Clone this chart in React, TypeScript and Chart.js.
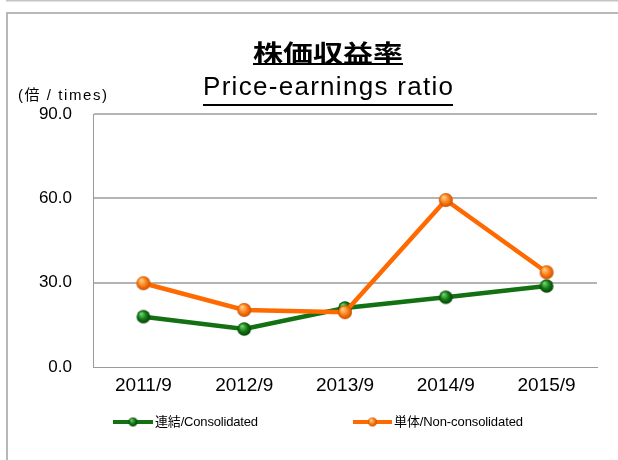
import React, { useEffect, useRef } from 'react';
import { Chart, registerables } from 'chart.js';

Chart.register(...registerables);

// ---- data ----
const categories = ['2011/9', '2012/9', '2013/9', '2014/9', '2015/9'];
const consolidated = [17.9, 13.5, 21.0, 24.8, 28.8];
const nonConsolidated = [29.8, 20.3, 19.5, 59.4, 33.7];
const seriesNames = ['連結/Consolidated', '単体/Non-consolidated'];
const titleJa = '株価収益率';
const titleEn = 'Price-earnings ratio';
const yUnit = '(倍 / times)';
const yMin = 0;
const yMax = 90;
const yStep = 30;

const GREEN = '#137013';
const ORANGE = '#ff6a00';
const FONT = '"Liberation Sans", "Noto Sans CJK JP", Arial, sans-serif';
const FONT_JA = '"Noto Sans CJK JP", "Liberation Sans", sans-serif';

function sphere(r: number, light: string, mid: string, dark: string) {
  const c = document.createElement('canvas');
  const s = Math.ceil(r * 2) + 2;
  c.width = s;
  c.height = s;
  const g = c.getContext('2d') as CanvasRenderingContext2D;
  const cx = s / 2;
  const cy = s / 2;
  const grad = g.createRadialGradient(cx - r * 0.35, cy - r * 0.45, r * 0.1, cx, cy, r);
  grad.addColorStop(0, light);
  grad.addColorStop(0.55, mid);
  grad.addColorStop(1, dark);
  g.fillStyle = grad;
  g.beginPath();
  g.arc(cx, cy, r, 0, Math.PI * 2);
  g.fill();
  return c;
}

function drawFit(
  ctx: CanvasRenderingContext2D,
  text: string,
  x: number,
  y: number,
  width: number,
  font: string,
  mode: 'spacing' | 'scale',
  baseline: CanvasTextBaseline = 'alphabetic'
) {
  ctx.save();
  ctx.font = font;
  const anyCtx = ctx as any;
  if ('letterSpacing' in anyCtx) anyCtx.letterSpacing = '0px';
  const w = ctx.measureText(text).width;
  const n = Array.from(text).length;
  ctx.textAlign = 'left';
  ctx.textBaseline = baseline;
  ctx.fillStyle = '#000';
  if (mode === 'spacing' && 'letterSpacing' in anyCtx && n > 1) {
    anyCtx.letterSpacing = (width - w) / (n - 1) + 'px';
    ctx.fillText(text, x, y);
  } else {
    ctx.translate(x, y);
    ctx.scale(width / w, 1);
    ctx.fillText(text, 0, 0);
  }
  ctx.restore();
}

export default function App() {
  const ref = useRef<HTMLCanvasElement | null>(null);

  useEffect(() => {
    const canvas = ref.current;
    if (!canvas) return;
    const greenBall = sphere(6.8, '#6fd06f', '#137a13', '#044004');
    const orangeBall = sphere(7, '#ffd08a', '#ff7d14', '#c94f00');
    const greenSmall = sphere(4.5, '#6fd06f', '#137a13', '#044004');
    const orangeSmall = sphere(4.5, '#ffd08a', '#ff7d14', '#c94f00');

    const decor = {
      id: 'decor',
      beforeDraw(chart: any) {
        const ctx = chart.ctx as CanvasRenderingContext2D;
        ctx.save();
        ctx.fillStyle = '#fff';
        ctx.fillRect(0, 0, chart.width, chart.height);
        ctx.fillStyle = '#c4c4c4';
        ctx.fillRect(6, 0, chart.width - 6, 1.5);
        ctx.fillStyle = '#b8b8b8';
        ctx.fillRect(6, 12, chart.width - 6, 2);
        ctx.fillRect(6, 12, 2, chart.height - 12);
        ctx.restore();
      },
      afterDraw(chart: any) {
        const ctx = chart.ctx as CanvasRenderingContext2D;
        // titles
        drawFit(ctx, titleJa, 253, 53, 150, `bold 24px ${FONT_JA}`, 'scale', 'middle');
        ctx.fillStyle = '#000';
        ctx.fillRect(253, 63, 150, 2);
        drawFit(ctx, titleEn, 203, 95, 250, `26px ${FONT}`, 'spacing');
        ctx.fillStyle = '#000';
        ctx.fillRect(203, 104, 250, 2);
        // unit label
        drawFit(ctx, yUnit, 18, 96, 89, `15px ${FONT}`, 'spacing', 'middle');
        // legend
        const items = [
          { x1: 113, x2: 153, tx: 155, tw: 103, color: GREEN, ball: greenSmall, text: seriesNames[0] },
          { x1: 353, x2: 392, tx: 394, tw: 129, color: ORANGE, ball: orangeSmall, text: seriesNames[1] },
        ];
        const ly = 422;
        items.forEach((it) => {
          ctx.save();
          ctx.strokeStyle = it.color;
          ctx.lineWidth = 4;
          ctx.beginPath();
          ctx.moveTo(it.x1, ly);
          ctx.lineTo(it.x2, ly);
          ctx.stroke();
          const cx = (it.x1 + it.x2) / 2;
          ctx.drawImage(it.ball, cx - it.ball.width / 2, ly - it.ball.height / 2);
          ctx.restore();
          drawFit(ctx, it.text, it.tx, ly, it.tw, `13px ${FONT}`, 'spacing', 'middle');
        });
      },
    };

    const chart = new Chart(canvas, {
      type: 'line',
      data: {
        labels: categories,
        datasets: [
          {
            label: seriesNames[0],
            data: consolidated,
            borderColor: GREEN,
            backgroundColor: GREEN,
            borderWidth: 4.5,
            pointStyle: greenBall as any,
            pointRadius: 6.5,
            tension: 0,
            order: 1,
          },
          {
            label: seriesNames[1],
            data: nonConsolidated,
            borderColor: ORANGE,
            backgroundColor: ORANGE,
            borderWidth: 4.5,
            pointStyle: orangeBall as any,
            pointRadius: 6.5,
            tension: 0,
            order: 0,
          },
        ],
      },
      options: {
        responsive: false,
        maintainAspectRatio: false,
        devicePixelRatio: 1,
        animation: false,
        layout: { padding: { top: 114, left: 0, right: 21, bottom: 63 } },
        plugins: {
          legend: { display: false },
          title: { display: false },
          tooltip: { enabled: false },
        },
        scales: {
          x: {
            offset: true,
            grid: { display: false, drawTicks: false },
            border: { display: true, color: '#9a9a9a', width: 1 },
            ticks: {
              color: '#000',
              font: { family: FONT, size: 19 },
              padding: 7,
              maxRotation: 0,
            },
            afterFit: (s: any) => {
              s.height = 30;
            },
          },
          y: {
            min: yMin,
            max: yMax,
            grid: {
              drawTicks: false,
              lineWidth: 2,
              color: (c: any) => (c.tick && c.tick.value === 0 ? 'rgba(0,0,0,0)' : '#b4b4b4'),
            },
            border: { display: true, color: '#9a9a9a', width: 1 },
            ticks: {
              stepSize: yStep,
              color: '#000',
              font: { family: FONT, size: 17 },
              padding: 21,
              callback: (v: any) => Number(v).toFixed(1),
            },
            afterFit: (s: any) => {
              s.width = 93;
            },
          },
        },
      },
      plugins: [decor],
    });
    return () => chart.destroy();
  }, []);

  return (
    <div style={{ position: 'absolute', left: 0, top: 0, width: 618, height: 460 }}>
      <canvas ref={ref} width={618} height={460} style={{ width: 618, height: 460, display: 'block' }} />
    </div>
  );
}
